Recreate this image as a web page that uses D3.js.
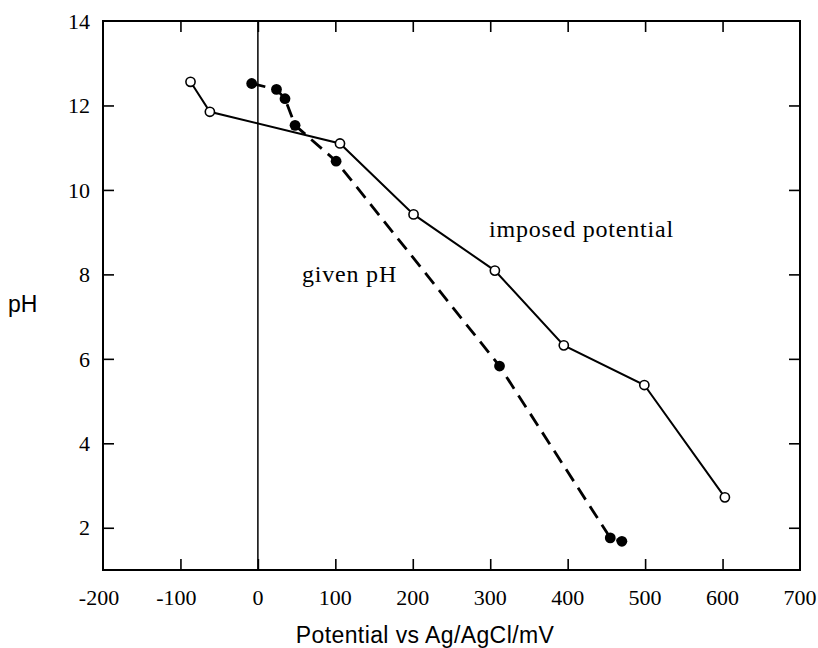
<!DOCTYPE html>
<html><head><meta charset="utf-8">
<script src="https://cdn.jsdelivr.net/npm/d3@7"></script>
<style>body{margin:0;background:#fff;} svg{display:block;}</style>
</head><body>
<svg id="c" width="818" height="648"></svg>
<script>
// Data
const imposedX = [-87, -62, 106, 201, 306, 395, 499, 603];
const imposedY = [12.56, 11.85, 11.1, 9.42, 8.09, 6.32, 5.38, 2.72];
const givenX = [-8, 24, 35, 48, 101, 312, 455, 470];
const givenY = [12.52, 12.38, 12.16, 11.53, 10.68, 5.83, 1.76, 1.68];
const xTicks = [-200, -100, 0, 100, 200, 300, 400, 500, 600, 700];
const yTicks = [2, 4, 6, 8, 10, 12, 14];

const svg = d3.select("#c");
const L = 103, R = 800, T = 21, B = 570;
const x = d3.scaleLinear().domain([-200, 700]).range([L, R]);
const y = d3.scaleLinear().domain([1, 14]).range([B, T]);
const serif = "'Liberation Serif', 'Times New Roman', serif";
const sans = "'Liberation Sans', Arial, sans-serif";

// frame
svg.append("rect").attr("x", L).attr("y", T).attr("width", R - L).attr("height", B - T)
  .attr("fill", "none").attr("stroke", "#000").attr("stroke-width", 2);

// ticks (inward) on all four sides
const tl = 11;
const innerX = xTicks.filter(v => v > -200 && v < 700);
const innerY = yTicks.filter(v => v < 14);
svg.append("g").attr("transform", `translate(0,${B})`)
  .call(d3.axisBottom(x).tickValues(innerX).tickSizeInner(-tl).tickSizeOuter(0).tickFormat(""))
  .call(g => g.select(".domain").remove()).selectAll("line").attr("stroke-width", 1.6);
svg.append("g").attr("transform", `translate(0,${T})`)
  .call(d3.axisTop(x).tickValues(innerX).tickSizeInner(-tl).tickSizeOuter(0).tickFormat(""))
  .call(g => g.select(".domain").remove()).selectAll("line").attr("stroke-width", 1.6);
svg.append("g").attr("transform", `translate(${L},0)`)
  .call(d3.axisLeft(y).tickValues(innerY).tickSizeInner(-tl).tickSizeOuter(0).tickFormat(""))
  .call(g => g.select(".domain").remove()).selectAll("line").attr("stroke-width", 1.6);
svg.append("g").attr("transform", `translate(${R},0)`)
  .call(d3.axisRight(y).tickValues(innerY).tickSizeInner(-tl).tickSizeOuter(0).tickFormat(""))
  .call(g => g.select(".domain").remove()).selectAll("line").attr("stroke-width", 1.6);

// tick labels
svg.append("g").selectAll("text").data(xTicks).join("text")
  .attr("x", d => x(d) - (d < 0 ? 4 : 0)).attr("y", 605).attr("text-anchor", "middle")
  .attr("font-family", serif).attr("font-size", 22).text(d => String(d));
svg.append("g").selectAll("text").data(yTicks).join("text")
  .attr("x", 90).attr("y", d => y(d)).attr("dy", "0.35em").attr("text-anchor", "end")
  .attr("font-family", serif).attr("font-size", 22).text(d => String(d));

// zero line
svg.append("line").attr("x1", x(0)).attr("x2", x(0)).attr("y1", T).attr("y2", B)
  .attr("stroke", "#000").attr("stroke-width", 1.5);

// lines
const line = d3.line().x(d => x(d[0])).y(d => y(d[1]));
const imp = imposedX.map((v, i) => [v, imposedY[i]]);
const giv = givenX.map((v, i) => [v, givenY[i]]);
svg.append("path").attr("d", line(imp)).attr("fill", "none").attr("stroke", "#000").attr("stroke-width", 2);
svg.append("path").attr("d", line(giv)).attr("fill", "none").attr("stroke", "#000").attr("stroke-width", 2.8)
  .attr("stroke-dasharray", "14,8");

svg.append("g").selectAll("circle").data(imp).join("circle")
  .attr("cx", d => x(d[0])).attr("cy", d => y(d[1])).attr("r", 4.6)
  .attr("fill", "#fff").attr("stroke", "#000").attr("stroke-width", 1.6);
svg.append("g").selectAll("circle").data(giv).join("circle")
  .attr("cx", d => x(d[0])).attr("cy", d => y(d[1])).attr("r", 5.4).attr("fill", "#000");

// annotations
svg.append("text").attr("x", 489).attr("y", 237).attr("font-family", serif).attr("font-size", 24)
  .attr("letter-spacing", 0.8).text("imposed potential");
svg.append("text").attr("x", 302).attr("y", 282).attr("font-family", serif).attr("font-size", 24)
  .attr("letter-spacing", 0.8).text("given pH");

// axis titles
svg.append("text").attr("x", 425).attr("y", 643).attr("text-anchor", "middle")
  .attr("font-family", sans).attr("font-size", 23).attr("letter-spacing", 0.4).text("Potential vs Ag/AgCl/mV");
svg.append("text").attr("x", 8).attr("y", 312)
  .attr("font-family", sans).attr("font-size", 23).text("pH");
</script>
</body></html>
